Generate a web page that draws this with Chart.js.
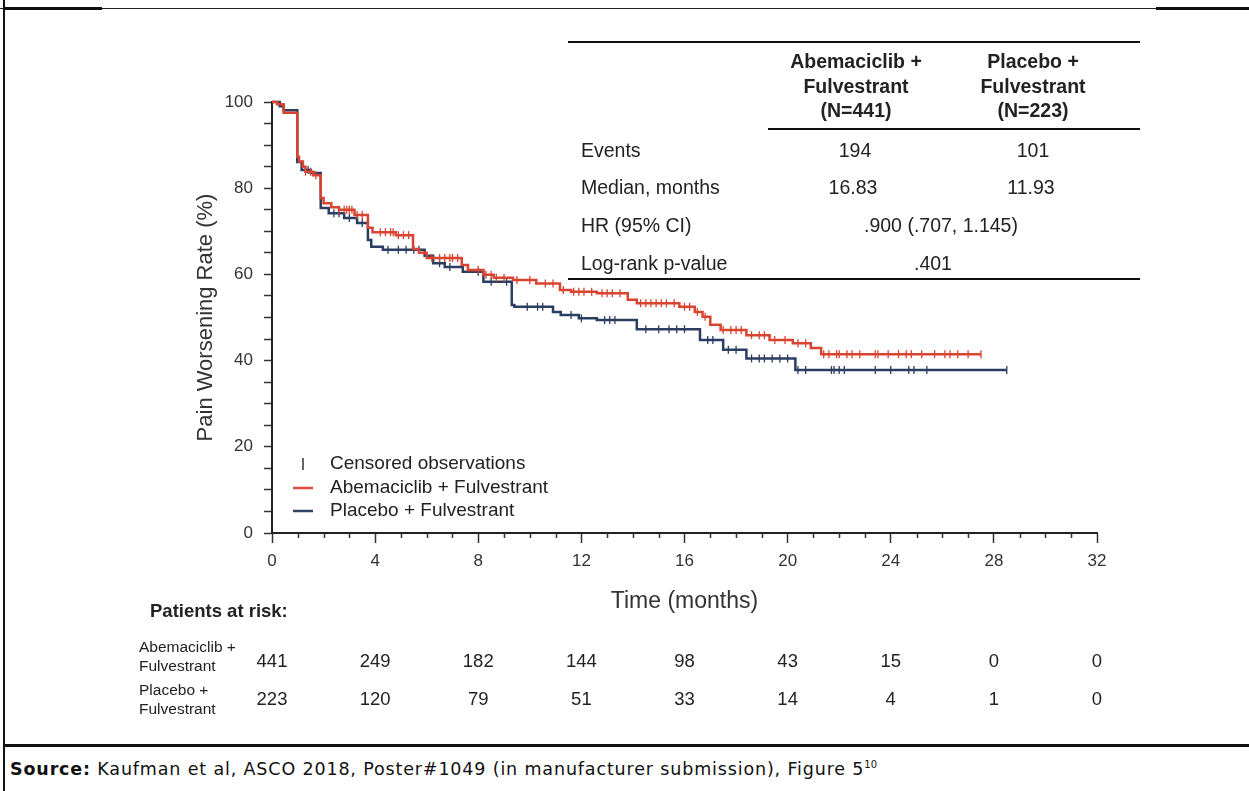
<!DOCTYPE html>
<html>
<head>
<meta charset="utf-8">
<script src="https://cdn.jsdelivr.net/npm/chart.js@4.4.1/dist/chart.umd.min.js"></script>
<style>
  body { margin: 0; background: #fff; }
  #page { position: relative; width: 1249px; height: 791px; overflow: hidden; font-family: "Liberation Sans", Arial, sans-serif; color: #222; }
  #kmChart { position: absolute; left: 0; top: 0; }
  .rule { position: absolute; height: 1.5px; background: #111; }
  .hdr { position: absolute; width: 170px; text-align: center; font-weight: bold; font-size: 19.5px; line-height: 24.5px; }
  .cell { position: absolute; font-size: 19.5px; line-height: 24px; white-space: nowrap; }
  .mid { text-align: center; width: 240px; }
  #source { position: absolute; left: 10px; top: 759px; font-family: "DejaVu Sans", sans-serif; font-size: 17.5px; letter-spacing: 0.85px; color: #111; white-space: nowrap; }
  #source sup { font-size: 10px; letter-spacing: 0; }
</style>
</head>
<body>
<div id="page">
  <!-- frame lines -->
  <div style="position:absolute;left:0;top:8px;width:1249px;height:1px;background:#222"></div>
  <div style="position:absolute;left:3px;top:7px;width:99px;height:3px;background:#111"></div>
  <div style="position:absolute;left:1156px;top:7px;width:93px;height:3px;background:#111"></div>
  <div style="position:absolute;left:3px;top:0;width:2px;height:791px;background:#111"></div>
  <div style="position:absolute;left:3px;top:744px;width:1246px;height:2.5px;background:#111"></div>

  <canvas id="kmChart" width="1249" height="744"></canvas>

  <!-- summary table -->
  <div class="rule" style="left:568px;top:41px;width:572px"></div>
  <div class="hdr" style="left:771px;top:49px">Abemaciclib +<br>Fulvestrant<br>(N=441)</div>
  <div class="hdr" style="left:948px;top:49px">Placebo +<br>Fulvestrant<br>(N=223)</div>
  <div class="rule" style="left:768px;top:128px;width:372px"></div>
  <div class="cell" style="left:581px;top:138px">Events</div>
  <div class="cell mid" style="left:735px;top:138px">194</div>
  <div class="cell mid" style="left:913px;top:138px">101</div>
  <div class="cell" style="left:581px;top:175px">Median, months</div>
  <div class="cell mid" style="left:733px;top:175px">16.83</div>
  <div class="cell mid" style="left:911px;top:175px">11.93</div>
  <div class="cell" style="left:581px;top:213px">HR (95% CI)</div>
  <div class="cell mid" style="left:821px;top:213px">.900 (.707, 1.145)</div>
  <div class="cell" style="left:581px;top:251px">Log-rank p-value</div>
  <div class="cell mid" style="left:813px;top:251px">.401</div>
  <div class="rule" style="left:568px;top:278px;width:572px"></div>

  <div id="source"><b>Source:</b> Kaufman et al, ASCO 2018, Poster#1049 (in manufacturer submission), Figure 5<sup>10</sup></div>
</div>

<script>
// Kaplan-Meier steps (months, % without worsening)
const abemaTime = [0, 0.2, 0.45, 0.98, 1.05, 1.2, 1.3, 1.6, 1.89, 2.0, 2.3, 2.6, 3.2, 3.72, 3.9, 4.8, 5.47, 5.7, 6.0, 7.36, 7.6, 8.2, 8.6, 9.35, 10.25, 11.17, 11.6, 12.6, 13.8, 14.15, 15.8, 16.4, 16.7, 17.0, 17.4, 18.4, 19.3, 20.2, 20.9, 21.3, 27.5];
const abemaSurv = [100, 99.5, 97.5, 87.3, 86.2, 85, 83.8, 83, 77.7, 76.5, 75.6, 75, 73.8, 70.8, 69.8, 69.1, 65.9, 65, 63.8, 62.2, 61, 59.9, 59.2, 58.7, 57.9, 56.4, 56, 55.6, 54.1, 53.3, 52.5, 51.3, 50.2, 48.3, 47.1, 45.9, 44.8, 44, 42.9, 41.5, 41.5];

const placeboTime = [0, 0.3, 0.45, 0.98, 1.15, 1.5, 1.89, 2.2, 2.8, 3.3, 3.72, 3.85, 4.3, 5.92, 6.25, 6.7, 7.4, 8.2, 9.3, 9.4, 10.9, 11.2, 11.9, 12.6, 14.15, 16.6, 17.5, 18.4, 20.3, 28.5];
const placeboSurv = [100, 99, 98.1, 86.1, 84.2, 83.5, 75.4, 74.2, 73.1, 71.9, 68, 66.4, 65.7, 64.3, 62.6, 61.7, 60.6, 58.3, 52.9, 52.5, 51.3, 50.6, 49.8, 49.4, 47.3, 44.8, 42.5, 40.5, 37.8, 37.8];

// censored observation times
const abemaCensor = [1.3, 1.5, 1.7, 2.6, 2.8, 2.9, 3.0, 3.1, 3.3, 3.5, 4.2, 4.4, 4.6, 4.7, 4.9, 5.1, 5.3, 6.2, 6.5, 6.7, 6.9, 7.0, 7.2, 8.0, 8.3, 8.5, 8.7, 9.0, 9.5, 10.0, 10.6, 10.9, 11.3, 11.7, 11.9, 12.1, 12.4, 12.8, 13.0, 13.2, 13.5, 14.3, 14.5, 14.7, 14.9, 15.1, 15.3, 15.6, 16.0, 16.2, 16.5, 16.8, 17.5, 17.8, 18.0, 18.2, 18.6, 18.9, 19.1, 19.5, 19.9, 20.4, 20.7, 21.4, 21.6, 21.9, 22.0, 22.3, 22.5, 22.8, 23.4, 23.5, 23.9, 24.3, 24.6, 24.8, 25.2, 25.7, 26.1, 26.3, 26.6, 27.0, 27.5];
const placeboCensor = [1.4, 2.4, 2.6, 3.0, 3.5, 4.5, 4.9, 5.2, 5.5, 5.7, 6.5, 6.9, 8.0, 8.5, 9.1, 9.9, 10.3, 10.5, 11.6, 12.0, 12.9, 13.1, 13.3, 14.5, 15.0, 15.4, 15.7, 16.0, 16.9, 17.1, 17.7, 18.0, 18.6, 18.9, 19.1, 19.4, 19.7, 20.0, 20.4, 20.7, 21.7, 21.8, 22.0, 22.2, 23.4, 24.0, 24.7, 24.9, 25.4, 28.5];

// patients at risk
const riskMonths = [0, 4, 8, 12, 16, 20, 24, 28, 32];
const abemaRisk = [441, 249, 182, 144, 98, 43, 15, 0, 0];
const placeboRisk = [223, 120, 79, 51, 33, 14, 4, 1, 0];

const redColor = '#d8442f';
const blueColor = '#2b3d60';

function toPoints(times, surv) {
    return times.map((t, i) => ({ x: t, y: surv[i] }));
}

// value of the step curve at time t
function survAt(times, surv, t) {
    let s = surv[0];
    for (let i = 0; i < times.length; i++) {
        if (times[i] <= t) s = surv[i];
    }
    return s;
}

function censorPoints(cens, times, surv) {
    return cens.map(t => ({ x: t, y: survAt(times, surv, t) }));
}

const extrasPlugin = {
    id: 'extras',
    afterDraw(chart) {
        const ctx = chart.ctx;
        const xs = chart.scales.x;
        const area = chart.chartArea;
        ctx.save();

        // minor month ticks on the x axis (shorter than the labelled ones)
        ctx.strokeStyle = '#333';
        ctx.lineWidth = 1.5;
        for (let m = xs.min; m <= xs.max; m++) {
            if (m % 4 === 0) continue;
            const px = Math.round(xs.getPixelForValue(m)) + 0.5;
            ctx.beginPath();
            ctx.moveTo(px, area.bottom);
            ctx.lineTo(px, area.bottom + 5);
            ctx.stroke();
        }

        ctx.fillStyle = '#222';
        ctx.textBaseline = 'middle';

        // legend inside plot
        const lx = area.left + 21;
        const ly = area.bottom - 69;
        ctx.beginPath();
        ctx.moveTo(lx + 10, ly - 6);
        ctx.lineTo(lx + 10, ly + 6);
        ctx.stroke();
        ctx.lineWidth = 2.5;
        ctx.strokeStyle = '#e04a3a';
        ctx.beginPath();
        ctx.moveTo(lx, ly + 24);
        ctx.lineTo(lx + 20, ly + 24);
        ctx.stroke();
        ctx.strokeStyle = '#2f4366';
        ctx.beginPath();
        ctx.moveTo(lx, ly + 47);
        ctx.lineTo(lx + 20, ly + 47);
        ctx.stroke();
        ctx.font = '19px "Liberation Sans", Arial';
        ctx.textAlign = 'left';
        ctx.fillText('Censored observations', lx + 37, ly);
        ctx.fillText('Abemaciclib + Fulvestrant', lx + 37, ly + 24);
        ctx.fillText('Placebo + Fulvestrant', lx + 37, ly + 47);

        // patients at risk table
        ctx.font = 'bold 18.5px "Liberation Sans", Arial';
        ctx.fillText('Patients at risk:', 150, 612);
        ctx.font = '15.5px "Liberation Sans", Arial';
        ctx.fillText('Abemaciclib +', 139, 648);
        ctx.fillText('Fulvestrant', 139, 667);
        ctx.fillText('Placebo +', 139, 691);
        ctx.fillText('Fulvestrant', 139, 710);
        ctx.font = '18.5px "Liberation Sans", Arial';
        ctx.textAlign = 'center';
        riskMonths.forEach((m, i) => {
            const px = xs.getPixelForValue(m);
            ctx.fillText(String(abemaRisk[i]), px, 662);
            ctx.fillText(String(placeboRisk[i]), px, 700);
        });
        ctx.restore();
    }
};

const ctx = document.getElementById('kmChart').getContext('2d');
new Chart(ctx, {
    type: 'line',
    data: {
        datasets: [
            {
                label: 'Abemaciclib + Fulvestrant',
                data: toPoints(abemaTime, abemaSurv),
                borderColor: redColor,
                borderWidth: 2.5,
                stepped: true,
                pointRadius: 0,
                fill: false,
                clip: 6
            },
            {
                label: 'Abemaciclib censored',
                data: censorPoints(abemaCensor, abemaTime, abemaSurv),
                showLine: false,
                pointStyle: 'line',
                pointRotation: 90,
                pointRadius: 4,
                borderColor: redColor,
                borderWidth: 1.3,
                clip: 6
            },
            {
                label: 'Placebo + Fulvestrant',
                data: toPoints(placeboTime, placeboSurv),
                borderColor: blueColor,
                borderWidth: 2.5,
                stepped: true,
                pointRadius: 0,
                fill: false,
                clip: 6
            },
            {
                label: 'Placebo censored',
                data: censorPoints(placeboCensor, placeboTime, placeboSurv),
                showLine: false,
                pointStyle: 'line',
                pointRotation: 90,
                pointRadius: 4,
                borderColor: blueColor,
                borderWidth: 1.3,
                clip: 6
            }
        ]
    },
    options: {
        responsive: false,
        animation: false,
        events: [],
        layout: { padding: { left: 180, right: 152, top: 102, bottom: 121 } },
        plugins: {
            legend: { display: false },
            tooltip: { enabled: false }
        },
        scales: {
            x: {
                type: 'linear',
                min: 0,
                max: 32,
                afterFit: function (scale) { scale.height = 90; },
                border: { display: true, color: '#222', width: 2 },
                grid: { drawOnChartArea: false, drawTicks: true, tickLength: 10, tickColor: '#333', tickWidth: 1.5 },
                ticks: {
                    stepSize: 4,
                    autoSkip: false,
                    maxRotation: 0,
                    padding: 8,
                    color: '#333',
                    font: { family: '"Liberation Sans", Arial', size: 17 }
                },
                title: {
                    display: true,
                    text: 'Time (months)',
                    color: '#333',
                    font: { family: '"Liberation Sans", Arial', size: 23 },
                    padding: { top: 0, bottom: 8 }
                }
            },
            y: {
                min: 0,
                max: 100,
                afterFit: function (scale) { scale.width = 92; },
                border: { display: true, color: '#222', width: 2 },
                grid: { drawOnChartArea: false, drawTicks: true, tickLength: 8, tickColor: '#333', tickWidth: 1.5 },
                ticks: {
                    stepSize: 5,
                    autoSkip: false,
                    padding: 11,
                    color: '#333',
                    font: { family: '"Liberation Sans", Arial', size: 17 },
                    callback: function (value) { return value % 20 === 0 ? value : ''; }
                },
                title: {
                    display: true,
                    text: 'Pain Worsening Rate (%)',
                    color: '#333',
                    font: { family: '"Liberation Sans", Arial', size: 22 },
                    padding: { top: 13, bottom: 0 }
                }
            }
        }
    },
    plugins: [extrasPlugin]
});
</script>
</body>
</html>
